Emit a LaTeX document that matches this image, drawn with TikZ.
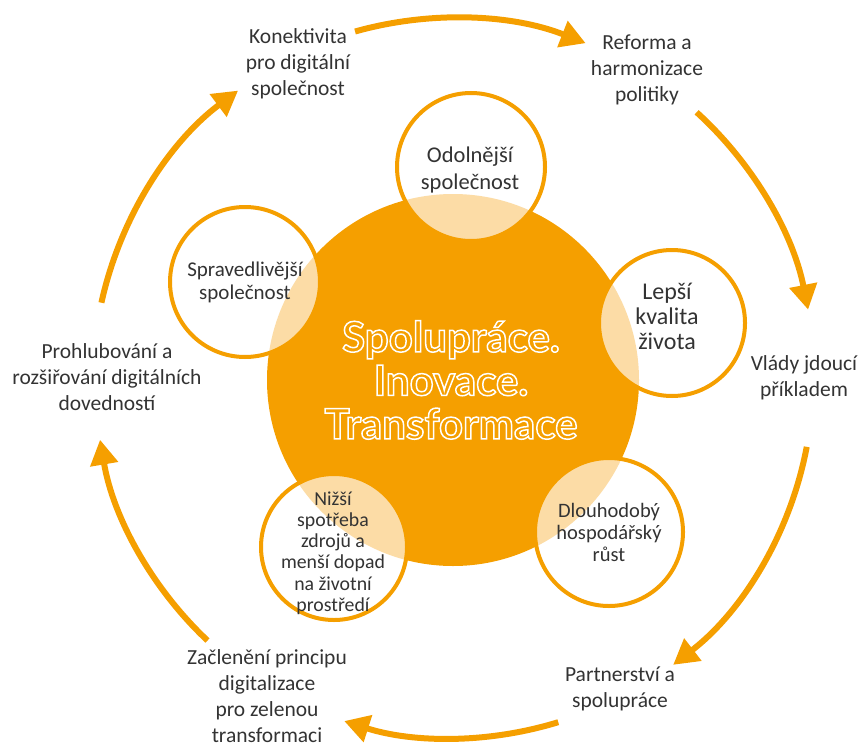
\documentclass[tikz,border=0pt]{standalone}
\usepackage{fontspec}
\setmainfont{Carlito}
\newfontfamily\corefont{Lato}
\usetikzlibrary{arrows.meta,calc}
\definecolor{vorange}{RGB}{245,159,0}
\definecolor{vpale}{RGB}{252,220,166}
\definecolor{vtext}{RGB}{51,51,51}
\newcommand\outlineon{\special{pdf:literal direct 1 Tr 1.5 w 1 1 1 RG}}
\newcommand\outlineoff{\special{pdf:literal direct 0 Tr}}
\begin{document}
\begin{tikzpicture}[x=1pt,y=-1pt,
 lbl/.style={align=center,text=vtext,font=\fontsize{21.5}{26}\selectfont,inner sep=0},
 ring/.style={circle,draw=vorange,line width=4pt,inner sep=0},
 ringtext/.style={align=center,text=vtext,inner sep=0},
 cyc/.style={draw=vorange,line width=6pt,-{Triangle[length=25pt,width=27pt]}},
 coretext/.style={align=center,font=\corefont\bfseries\fontsize{42}{43.5}\selectfont,inner sep=0}]
\useasboundingbox (0,0) rectangle (866,749);
\coordinate (O) at (453,380);
% big circle
\fill[vorange] (O) circle (186);
% white interiors of small circles
\fill[white] (471,167) circle (74) (672,323) circle (73) (609,532) circle (74) (334,547) circle (73) (245,282) circle (75);
% overlaps
\begin{scope}
\clip (O) circle (186);
\fill[vpale] (471,167) circle (74) (672,323) circle (73) (609,532) circle (74) (334,547) circle (73) (245,282) circle (75);
\end{scope}
% small circles
\node[ring,minimum size=148pt] (odol) at (471,167) {};
\node[ring,minimum size=146pt] (lepsi) at (672,323) {};
\node[ring,minimum size=148pt] (dlouho) at (609,532) {};
\node[ring,minimum size=146pt] (nizsi) at (334,547) {};
\node[ring,minimum size=150pt] (sprav) at (245,282) {};
% texts in small circles
\node[ringtext,font=\fontsize{22.5}{27}\selectfont] (odolt) at (470,170) {Odolnější\\společnost};
\node[ringtext,font=\fontsize{24}{25}\selectfont] (lepsit) at (667,316) {Lepší\\kvalita\\života};
\node[ringtext,font=\fontsize{20.5}{22}\selectfont] (dlouhot) at (609,532) {Dlouhodobý\\hospodářský\\růst};
\node[ringtext,font=\fontsize{19.8}{21.2}\selectfont] (nizsit) at (333,553) {Nižší\\spotřeba\\zdrojů a\\menší dopad\\na životní\\prostředí};
\node[ringtext,font=\fontsize{21}{23}\selectfont] (spravt) at (245,282) {Spravedlivější\\společnost};
% core outlined text
\node[coretext,text=white] (core) at (451,380) {\outlineon Spolupráce.\\\outlineon Inovace.\\\outlineon Transformace\outlineoff};
% outer labels
\node[lbl] (konekt) at (298,64) {Konektivita\\pro digitální\\společnost};
\node[lbl] (reforma) at (647,70) {Reforma a\\harmonizace\\politiky};
\node[lbl] (vlady) at (804,378) {Vlády jdoucí\\příkladem};
\node[lbl] (partner) at (620,689) {Partnerství a\\spolupráce};
\node[lbl] (zacl) at (267,696) {Začlenění principu\\digitalizace\\pro zelenou\\transformaci};
\node[lbl] (prohl) at (107,377) {Prohlubování a\\rozšiřování digitálních\\dovedností};
% cycle arrows
\draw[cyc] ($(O)+(-105.7:362)$) arc[start angle=-105.7,end angle=-68.5,radius=362];
\draw[cyc] ($(O)+(-47.7:362)$) arc[start angle=-47.7,end angle=-11.2,radius=362];
\draw[cyc] ($(O)+(10.7:360)$) arc[start angle=10.7,end angle=52.3,radius=360];
\draw[cyc] ($(O)+(72.9:358)$) arc[start angle=72.9,end angle=107.7,radius=358];
\draw[cyc] ($(O)+(133.3:358)$) arc[start angle=133.3,end angle=170.4,radius=358];
\draw[cyc] ($(O)+(192.4:360)$) arc[start angle=192.4,end angle=233.2,radius=362];
\end{tikzpicture}
\end{document}
